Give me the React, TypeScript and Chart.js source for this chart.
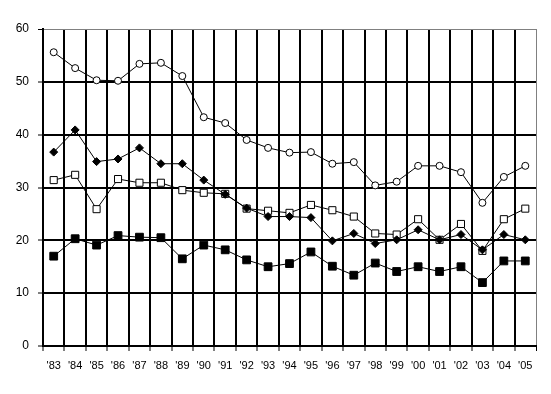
import React, { useEffect, useRef } from "react";
import { Chart, registerables } from "chart.js";

Chart.register(...registerables);

const years = ["'83", "'84", "'85", "'86", "'87", "'88", "'89", "'90", "'91", "'92", "'93", "'94", "'95", "'96", "'97", "'98", "'99", "'00", "'01", "'02", "'03", "'04", "'05"];

const seriesCircle = [55.6, 52.6, 50.3, 50.2, 53.4, 53.6, 51.1, 43.3, 42.2, 39.0, 37.5, 36.6, 36.7, 34.5, 34.8, 30.4, 31.1, 34.1, 34.1, 32.9, 27.1, 32.0, 34.1];
const seriesDiamond = [36.7, 40.9, 34.9, 35.4, 37.5, 34.5, 34.5, 31.4, 28.7, 26.1, 24.5, 24.5, 24.3, 19.9, 21.3, 19.4, 20.1, 22.0, 20.1, 21.1, 18.2, 21.1, 20.1];
const seriesOpenSquare = [31.4, 32.4, 25.9, 31.6, 30.9, 30.9, 29.5, 29.0, 28.8, 26.0, 25.6, 25.2, 26.7, 25.7, 24.5, 21.3, 21.1, 24.0, 20.1, 23.1, 18.0, 24.0, 26.0];
const seriesFilledSquare = [17.0, 20.3, 19.1, 20.9, 20.6, 20.5, 16.5, 19.1, 18.2, 16.3, 15.0, 15.6, 17.8, 15.1, 13.4, 15.7, 14.1, 15.0, 14.1, 15.0, 12.0, 16.1, 16.1];

const yMin = 0;
const yMax = 60;
const yStep = 10;

export default function App() {
  const ref = useRef<HTMLCanvasElement | null>(null);

  useEffect(() => {
    if (!ref.current) return;
    const base = {
      borderColor: "#000",
      borderWidth: 1,
      tension: 0,
      pointBorderColor: "#000",
      pointBorderWidth: 1,
    };
    const chart = new Chart(ref.current, {
      type: "line",
      data: {
        labels: years,
        datasets: [
          { ...base, label: "A", data: seriesCircle, pointStyle: "circle", pointRadius: 3.5, pointBackgroundColor: "#fff", backgroundColor: "#fff" },
          { ...base, label: "B", data: seriesDiamond, pointStyle: "rectRot", pointRadius: 4, pointBackgroundColor: "#000", backgroundColor: "#000" },
          { ...base, label: "C", data: seriesOpenSquare, pointStyle: "rect", pointRadius: 5, pointBackgroundColor: "#fff", backgroundColor: "#fff" },
          { ...base, label: "D", data: seriesFilledSquare, pointStyle: "rect", pointRadius: 5.5, pointBackgroundColor: "#000", backgroundColor: "#000" },
        ],
      },
      options: {
        responsive: false,
        animation: false,
        devicePixelRatio: 1,
        layout: { padding: { top: 29, right: 15, left: 0, bottom: 0 } },
        plugins: { legend: { display: false }, tooltip: { enabled: false }, title: { display: false } },
        scales: {
          x: {
            type: "category",
            offset: true,
            grid: {
              offset: true,
              color: (ctx: any) => (ctx.type === "scale" ? "#808080" : "#000"),
              lineWidth: (ctx: any) => (ctx.type === "scale" ? 1 : 2),
              tickColor: "#000",
              tickLength: 5,
              tickWidth: 1,
            },
            border: { display: true, color: "#000", width: 2 },
            ticks: {
              color: "#000",
              padding: 8,
              maxRotation: 0,
              autoSkip: false,
              font: { family: "'Liberation Sans Narrow', 'Liberation Sans', Arial, sans-serif", size: 11 },
            },
            afterFit: (scale: any) => {
              scale.height = 48;
            },
          },
          y: {
            min: yMin,
            max: yMax,
            grid: {
              color: (ctx: any) => (ctx.tick && ctx.tick.value === yMax ? "#808080" : "#000"),
              lineWidth: (ctx: any) => (ctx.tick && ctx.tick.value === yMax ? 1 : 2),
              tickColor: "#000",
              tickLength: 5,
              tickWidth: 1,
            },
            border: { display: true, color: "#000", width: 2 },
            ticks: {
              stepSize: yStep,
              color: "#000",
              padding: 9,
              font: { family: "'Liberation Sans', Arial, sans-serif", size: 12 },
            },
            afterFit: (scale: any) => {
              scale.width = 43;
            },
          },
        },
      },
    });
    return () => chart.destroy();
  }, []);

  return (
    <div style={{ position: "absolute", left: 0, top: 0, width: 551, height: 394, background: "#fff" }}>
      <canvas ref={ref} width={551} height={394} style={{ width: 551, height: 394, display: "block" }} />
    </div>
  );
}
